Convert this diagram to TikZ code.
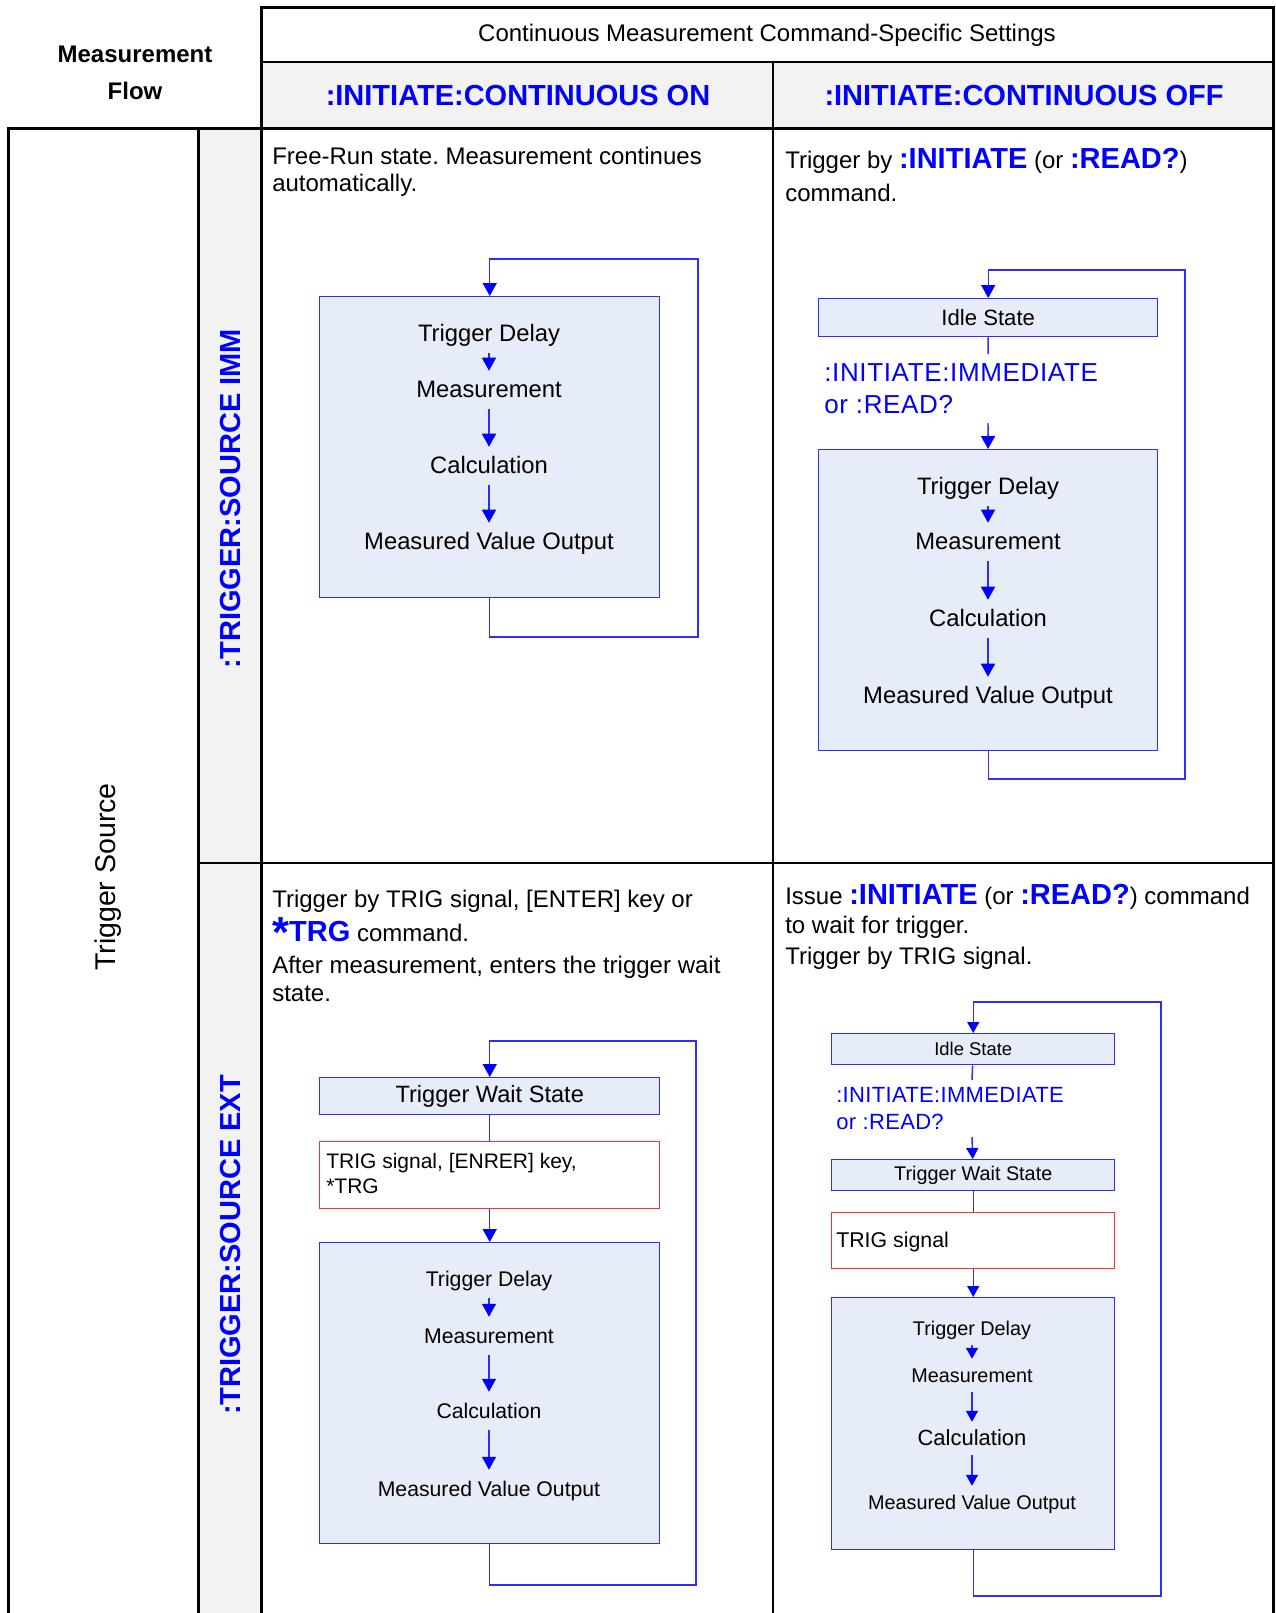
\documentclass[tikz,border=0pt]{standalone}
\usepackage{fontspec}
\setmainfont{Liberation Sans}
\usetikzlibrary{arrows.meta}
\definecolor{cmdblue}{RGB}{0,0,255}
\definecolor{lineblue}{RGB}{45,45,255}
\definecolor{boxfill}{RGB}{230,236,248}
\definecolor{hdrgray}{RGB}{242,242,242}
\definecolor{redline}{RGB}{255,45,45}
\newcommand\fsz[1]{\fontsize{#1}{#1}\selectfont}
\newcommand\hb[1]{{\fsz{21.75pt}\bfseries\color{cmdblue}#1}}
\frenchspacing
\begin{document}
\frenchspacing
\begin{tikzpicture}[x=0.75pt,y=-0.75pt,
  thickrule/.style={line width=2.25pt, black},
  thinrule/.style={line width=1pt, black},
  flowbox/.style={draw=lineblue, fill=boxfill, line width=1.1pt, inner sep=0pt, anchor=north west},
  redbox/.style={draw=redline, fill=white, line width=1.1pt, inner sep=0pt, anchor=north west},
  link/.style={draw=lineblue, line width=1.1pt},
  arrL/.style={link, -{Triangle[width=10.5pt,length=9.75pt,color=cmdblue]}},
  arrS/.style={link, -{Triangle[width=9pt,length=8.25pt,color=cmdblue]}},
  ftA/.style={inner sep=0pt, anchor=base, text height=26*0.75pt, text depth=12*0.75pt},
  ftB/.style={inner sep=0pt, anchor=base, text height=23*0.75pt, text depth=10*0.75pt},
  body/.style={inner sep=0pt, anchor=base west, font=\fsz{18pt}},
  hdr/.style={inner sep=0pt, font=\fsz{21.75pt}\bfseries, text=cmdblue},
  cmdtext/.style={inner sep=0pt, anchor=base west, text=cmdblue},
]
\useasboundingbox (0,0) rectangle (1276,1613);
% ---------- table ----------
\fill[hdrgray] (261,62) rectangle (1273,128);
\fill[hdrgray] (198,128) rectangle (261,1613);
\draw[thinrule] (261,62) -- (1273,62);
\draw[thinrule] (773,62) -- (773,1613);
\draw[thinrule] (198,863) -- (1273,863);
\draw[thickrule] (261,1613) -- (261,7) -- (1273,7) -- (1273,1613);
\draw[thickrule] (8,1613) -- (8,128) -- (1273,128);
\draw[thickrule] (198,128) -- (198,1613);
% ---------- headers ----------
\node[inner sep=0pt, font=\fsz{18pt}] (settings) at (767,35) {Continuous Measurement Command-Specific Settings};
\node[hdr] (contOn) at (518,96) {:INITIATE:CONTINUOUS ON};
\node[hdr] (contOff) at (1024,96) {:INITIATE:CONTINUOUS OFF};
\node[inner sep=0pt, font=\fsz{18pt}\bfseries, anchor=base] (mf1) at (135,62) {Measurement};
\node[inner sep=0pt, font=\fsz{18pt}\bfseries, anchor=base] (mf2) at (135,99) {Flow};
\node[hdr, rotate=90] (srcImm) at (231,499) {:TRIGGER:SOURCE IMM};
\node[hdr, rotate=90] (srcExt) at (231,1245) {:TRIGGER:SOURCE EXT};
\node[inner sep=0pt, rotate=90, font=\fsz{21.4pt}] (trigSrc) at (108,877) {Trigger Source};
% ---------- cell texts ----------
\node[body] (ta1) at (272,164) {Free-Run state. Measurement continues};
\node[body] (ta2) at (272,191) {automatically.};
\node[body] (tb1) at (785,168) {Trigger by \hb{:INITIATE} (or \hb{:READ?})};
\node[body] (tb2) at (785,201) {command.};
\node[body] (tc1) at (272,907) {Trigger by TRIG signal, [ENTER] key or};
\node[body] (tc2) at (272,941) {\hb{\raisebox{-0.4ex}{\scalebox{1.5}{*}}TRG} command.};
\node[body] (tc3) at (272,973) {After measurement, enters the trigger wait};
\node[body] (tc4) at (272,1001) {state.};
\node[body] (td1) at (785,904) {Issue \hb{:INITIATE} (or \hb{:READ?}) command};
\node[body] (td2) at (785,933) {to wait for trigger.};
\node[body] (td3) at (785,964) {Trigger by TRIG signal.};
% ---------- flow: IMM / ON ----------
\node[flowbox, minimum width=340*0.75pt, minimum height=301*0.75pt] (a0) at (319,296) {};
\node[ftA, font=\fsz{17.85pt}] (a1) at (489,341) {Trigger Delay};
\node[ftA, font=\fsz{17.85pt}] (a2) at (489,397) {Measurement};
\node[ftA, font=\fsz{17.85pt}] (a3) at (489,473) {Calculation};
\node[ftA, font=\fsz{17.85pt}] (a4) at (489,549) {Measured Value Output};
\draw[arrL] (a1) -- (a2);
\draw[arrL] (a2) -- (a3);
\draw[arrL] (a3) -- (a4);
\coordinate (aBR) at (698,637);
\coordinate (aTR) at (698,259);
\draw[arrL] (a0.south) |- (aBR) -- (aTR) -| (a0.north);
% ---------- flow: IMM / OFF ----------
\node[flowbox, minimum width=339*0.75pt, minimum height=38*0.75pt, font=\fsz{16.6pt}] (b0) at (818,298) {Idle State};
\coordinate (b0e) at (988,354);
\draw[link] (b0) -- (b0e);
\node[cmdtext, font=\fsz{19.5pt}\addfontfeature{LetterSpace=2.5}] (bc1) at (824,381) {:INITIATE:IMMEDIATE};
\node[cmdtext, font=\fsz{19.5pt}\addfontfeature{LetterSpace=2.5}] (bc2) at (824,413) {or :READ?};
\node[flowbox, minimum width=339*0.75pt, minimum height=301*0.75pt] (b3) at (818,449) {};
\coordinate (b2s) at (988,423);
\draw[arrL] (b2s) -- (b3);
\node[ftA, font=\fsz{17.85pt}] (b4) at (988,494) {Trigger Delay};
\node[ftA, font=\fsz{17.85pt}] (b5) at (988,549) {Measurement};
\node[ftA, font=\fsz{17.85pt}] (b6) at (988,626) {Calculation};
\node[ftA, font=\fsz{17.85pt}] (b7) at (988,703) {Measured Value Output};
\draw[arrL] (b4) -- (b5);
\draw[arrL] (b5) -- (b6);
\draw[arrL] (b6) -- (b7);
\coordinate (bBR) at (1185,779);
\coordinate (bTR) at (1185,270);
\draw[arrL] (b3.south) |- (bBR) -- (bTR) -| (b0.north);
% ---------- flow: EXT / ON ----------
\node[flowbox, minimum width=340*0.75pt, minimum height=37*0.75pt, font=\fsz{17.7pt}] (c0) at (319,1077) {Trigger Wait State};
\node[redbox, minimum width=340*0.75pt, minimum height=67*0.75pt] (c1) at (319,1141) {};
\node[inner sep=0pt, anchor=base west, font=\fsz{15.75pt}] (c1a) at (326,1168) {TRIG signal, [ENRER] key,};
\node[inner sep=0pt, anchor=base west, font=\fsz{15.75pt}] (c1b) at (326,1193) {*TRG};
\draw[link] (c0) -- (c1);
\node[flowbox, minimum width=340*0.75pt, minimum height=301*0.75pt] (c2) at (319,1242) {};
\draw[arrL] (c1) -- (c2);
\node[ftA, font=\fsz{15.9pt}] (c3) at (489,1286) {Trigger Delay};
\node[ftA, font=\fsz{15.9pt}] (c4) at (489,1343) {Measurement};
\node[ftA, font=\fsz{15.9pt}] (c5) at (489,1418) {Calculation};
\node[ftA, font=\fsz{15.9pt}] (c6) at (489,1496) {Measured Value Output};
\draw[arrL] (c3) -- (c4);
\draw[arrL] (c4) -- (c5);
\draw[arrL] (c5) -- (c6);
\coordinate (cBR) at (696,1585);
\coordinate (cTR) at (696,1041);
\draw[arrL] (c2.south) |- (cBR) -- (cTR) -| (c0.north);
% ---------- flow: EXT / OFF ----------
\node[flowbox, minimum width=283*0.75pt, minimum height=31*0.75pt, font=\fsz{13.8pt}] (d0) at (831,1033) {Idle State};
\coordinate (d0e) at (972,1080);
\draw[link] (d0) -- (d0e);
\node[cmdtext, font=\fsz{16.5pt}\addfontfeature{LetterSpace=1.5}] (dc1) at (836,1102) {:INITIATE:IMMEDIATE};
\node[cmdtext, font=\fsz{16.5pt}\addfontfeature{LetterSpace=1.5}] (dc2) at (836,1129) {or :READ?};
\node[flowbox, minimum width=283*0.75pt, minimum height=31*0.75pt, font=\fsz{14.85pt}] (d1) at (831,1159) {Trigger Wait State};
\coordinate (d1s) at (972,1137);
\draw[arrS] (d1s) -- (d1);
\node[redbox, minimum width=283*0.75pt, minimum height=56*0.75pt] (d2) at (831,1212) {};
\node[inner sep=0pt, anchor=base west, font=\fsz{16pt}] (d2a) at (836,1247) {TRIG signal};
\draw[link] (d1) -- (d2);
\node[flowbox, minimum width=283*0.75pt, minimum height=252*0.75pt] (d3) at (831,1297) {};
\draw[arrS] (d2) -- (d3);
\node[ftB, font=\fsz{14.85pt}] (d4) at (972,1335) {Trigger Delay};
\node[ftB, font=\fsz{14.85pt}] (d5) at (972,1382) {Measurement};
\node[ftB, font=\fsz{16.5pt}] (d6) at (972,1445) {Calculation};
\node[ftB, font=\fsz{14.85pt}] (d7) at (972,1509) {Measured Value Output};
\draw[arrS] (d4) -- (d5);
\draw[arrS] (d5) -- (d6);
\draw[arrS] (d6) -- (d7);
\coordinate (dBR) at (1161,1596);
\coordinate (dTR) at (1161,1002);
\draw[arrS] (d3.south) |- (dBR) -- (dTR) -| (d0.north);
\end{tikzpicture}
\end{document}
